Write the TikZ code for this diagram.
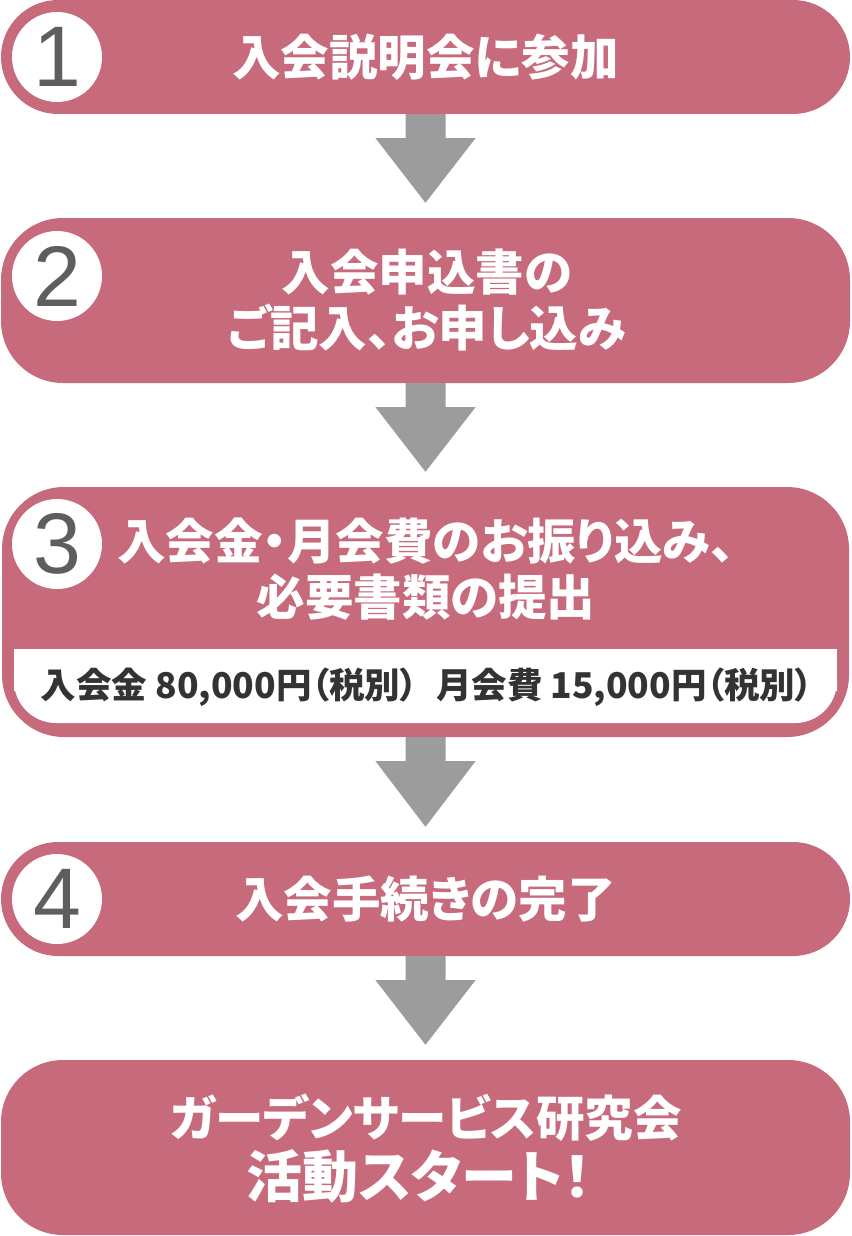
\documentclass[tikz,border=0pt]{standalone}
\usepackage{fontspec}
\newfontfamily\jp{Noto Sans CJK JP}[RawFeature=+palt]
\newfontfamily\numfont{Liberation Sans}
\usetikzlibrary{calc}
\definecolor{pinkbox}{HTML}{C76A7C}
\definecolor{arrowgray}{HTML}{9C9C9C}
\definecolor{numgray}{HTML}{5E5E5E}
\definecolor{bandtext}{HTML}{333333}
\newcommand\flowarr[2]{%
  \fill[arrowgray] ($(#1.south)+(-20,0)$) -- ($(#1.south)+(-20,24)$) -- ($(#1.south)+(-50,24)$)
    -- ($(#2.north)+(0,-15)$) -- ($(#1.south)+(50,24)$) -- ($(#1.south)+(20,24)$) -- ($(#1.south)+(20,0)$) -- cycle;}
\begin{document}
\begin{tikzpicture}[x=1pt,y=-1pt,
  stepbox/.style={fill=pinkbox, draw=none, inner sep=0pt, rectangle, minimum width=849pt},
  numcircle/.style={circle, fill=white, minimum size=90pt, inner sep=0pt, text=numgray,
    font=\numfont\fontsize{86}{86}\selectfont},
  steptext/.style={text=white, align=center, inner sep=0pt,
    font=\jp\bfseries\fontsize{48.5}{56}\selectfont},
  bigtext/.style={text=white, inner sep=0pt, font=\jp\bfseries\fontsize{56}{56}\selectfont},
  bandlabel/.style={text=bandtext, inner sep=0pt, font=\jp\bfseries\fontsize{35.5}{35.5}\selectfont}
]
\useasboundingbox (0,0) rectangle (851,1236);
% boxes
\node[stepbox, rounded corners=57pt, minimum height=114pt] (s1) at (425.5,57) {};
\node[stepbox, rounded corners=62pt, minimum height=165pt] (s2) at (425.5,300.5) {};
\node[stepbox, rounded corners=62pt, minimum height=250pt, minimum width=847pt] (s3) at (425.5,612) {};
\node[stepbox, rounded corners=57pt, minimum height=114pt] (s4) at (425.5,899) {};
\node[stepbox, rounded corners=62pt, minimum height=175pt] (s5) at (425.5,1147.5) {};
% white band in box 3
\node[fill=white, rounded corners=42pt, minimum width=823pt, minimum height=74pt, inner sep=0pt] (band) at (425.5,686) {};
\fill[white] (band.north west) rectangle ($(band.east)+(0,5)$);
% arrows
\flowarr{s1}{s2}
\flowarr{s2}{s3}
\flowarr{s3}{s4}
\flowarr{s4}{s5}
% number circles
\node[numcircle] (n1) at (57,57) {1};
\node[numcircle] (n2) at (57,276) {2};
\node[numcircle] (n3) at (57,544) {3};
\node[numcircle] (n4) at (57,899) {4};
% texts
\node[steptext] (t1) at (425.5,57) {入会説明会に参加};
\node[steptext] (t2) at (427,300) {入会申込書の\\ご記入、お申し込み};
\node[steptext] (t3) at (426,569) {入会金・月会費のお振り込み、\\必要書類の提出};
\node[steptext] (t4) at (425.5,899) {入会手続きの完了};
\node[steptext] (t5a) at (426,1118) {ガーデンサービス研究会};
\node[bigtext] (t5b) at (419,1176) {活動スタート！};
\node[bandlabel] (bl) at (427,687) {入会金 80,000円（税別）\hspace{18pt}月会費 15,000円（税別）};
\end{tikzpicture}
\end{document}
